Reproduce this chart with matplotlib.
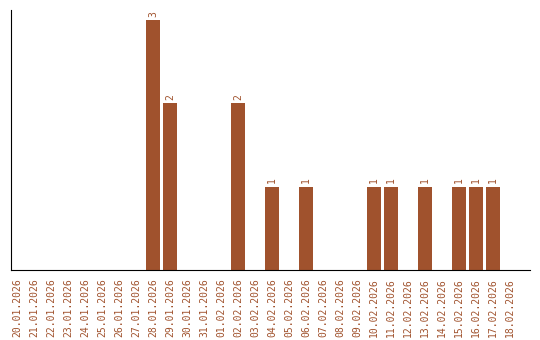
import matplotlib
matplotlib.use("Agg")
import matplotlib.pyplot as plt

dates = ["20.01.2026", "21.01.2026", "22.01.2026", "23.01.2026", "24.01.2026",
         "25.01.2026", "26.01.2026", "27.01.2026", "28.01.2026", "29.01.2026",
         "30.01.2026", "31.01.2026", "01.02.2026", "02.02.2026", "03.02.2026",
         "04.02.2026", "05.02.2026", "06.02.2026", "07.02.2026", "08.02.2026",
         "09.02.2026", "10.02.2026", "11.02.2026", "12.02.2026", "13.02.2026",
         "14.02.2026", "15.02.2026", "16.02.2026", "17.02.2026", "18.02.2026"]
counts = [0, 0, 0, 0, 0, 0, 0, 0, 3, 2,
          0, 0, 0, 2, 0, 1, 0, 1, 0, 0,
          0, 1, 1, 0, 1, 0, 1, 1, 1, 0]

color = "#A0522D"

fig = plt.figure(figsize=(5.4, 3.4), dpi=100)
ax = fig.add_axes([0.0204, 0.2059, 0.9611, 0.7647])

x = range(len(dates))
ax.bar(x, counts, width=0.82, color=color)
for i, c in zip(x, counts):
    if c > 0:
        ax.text(i, c + 0.04, str(c), rotation=90, ha="center", va="bottom",
                color=color, fontsize=7, family="DejaVu Sans Mono")

ax.set_xlim(-0.35, 30.18)
ax.set_ylim(0, 3.12)
ax.set_xticks(list(x))
ax.set_xticklabels(dates, rotation=90, color=color, fontsize=7,
                   family="DejaVu Sans Mono")
ax.tick_params(axis="x", length=0, pad=6)
ax.set_yticks([])
ax.spines["top"].set_visible(False)
ax.spines["right"].set_visible(False)

fig.savefig("out.png", dpi=100)
